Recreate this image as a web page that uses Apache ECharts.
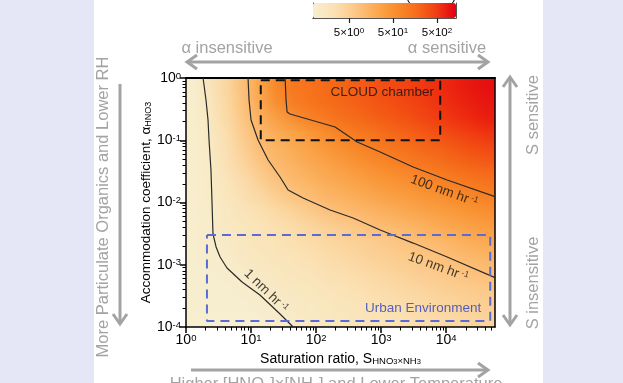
<!DOCTYPE html>
<html><head><meta charset="utf-8">
<script src="https://cdn.jsdelivr.net/npm/echarts@6/dist/echarts.min.js"></script>
<style>
html,body{margin:0;padding:0;width:623px;height:383px;overflow:hidden;background:#e6e7f6;}
#panel{position:absolute;left:94px;top:0;width:449px;height:383px;background:#ffffff;}
#hm{position:absolute;left:186px;top:78px;width:19px;height:16px;transform-origin:0 0;}
#main{position:absolute;left:0;top:0;width:623px;height:383px;}
</style></head><body>
<div id="panel"></div><div id="hm"></div><div id="main"></div>
<script>
// ---------------- data ----------------
// cell centres of the colour field (saturation ratio S, accommodation coefficient alpha)
const sCentres = [1.33,2.37,4.22,7.50,13.3,23.7,42.2,75.0,133,237,422,750,1334,2371,4217,7499,13335,23714,42170];
const alphaCentres = [1.33e-4,2.37e-4,4.22e-4,7.5e-4,1.33e-3,2.37e-3,4.22e-3,7.5e-3,0.0133,0.0237,0.0422,0.075,0.133,0.237,0.422,0.75];
// log10(growth rate, nm/hr), rows from top (alpha 0.75) to bottom (alpha 1.33e-4)
const logRateRows = [
 [-0.5,0.15,0.52,0.89,1.31,1.74,2.03,2.12,2.2,2.28,2.36,2.45,2.53,2.61,2.7,2.78,2.86,2.94,3.03],
 [-0.5,0.1,0.48,0.87,1.28,1.72,2.02,2.1,2.18,2.26,2.34,2.42,2.5,2.58,2.66,2.74,2.82,2.9,2.97],
 [-0.5,0.07,0.45,0.83,1.17,1.49,1.8,2.03,2.12,2.2,2.28,2.37,2.45,2.53,2.62,2.7,2.78,2.87,2.95],
 [-0.5,0.04,0.39,0.75,1.05,1.23,1.42,1.6,1.78,1.97,2.07,2.16,2.25,2.34,2.44,2.53,2.62,2.71,2.8],
 [-0.5,0.02,0.34,0.65,0.97,1.13,1.28,1.43,1.58,1.73,1.88,2.01,2.1,2.19,2.27,2.36,2.45,2.53,2.62],
 [-0.5,0.01,0.29,0.57,0.86,1.06,1.18,1.3,1.42,1.55,1.67,1.79,1.91,2.02,2.1,2.18,2.27,2.35,2.43],
 [-0.5,-0.01,0.23,0.46,0.7,0.93,1.07,1.18,1.28,1.38,1.48,1.59,1.69,1.79,1.9,2.0,2.07,2.15,2.22],
 [-0.5,-0.01,0.18,0.36,0.55,0.74,0.93,1.05,1.14,1.23,1.31,1.4,1.49,1.57,1.66,1.75,1.83,1.92,2.01],
 [-0.5,-0.02,0.12,0.26,0.4,0.54,0.68,0.82,0.96,1.06,1.14,1.22,1.3,1.39,1.47,1.55,1.63,1.72,1.8],
 [-0.5,-0.03,0.08,0.19,0.29,0.39,0.5,0.6,0.7,0.8,0.91,1.01,1.09,1.17,1.25,1.34,1.42,1.5,1.58],
 [-0.5,-0.03,0.06,0.14,0.22,0.3,0.38,0.46,0.54,0.62,0.7,0.78,0.86,0.94,1.02,1.1,1.19,1.28,1.37],
 [-0.5,-0.1,0.03,0.1,0.17,0.24,0.31,0.38,0.45,0.52,0.59,0.66,0.73,0.8,0.87,0.94,1.01,1.09,1.17],
 [-0.6,-0.25,-0.05,0.03,0.1,0.16,0.23,0.29,0.36,0.42,0.49,0.55,0.62,0.68,0.75,0.81,0.88,0.94,1.0],
 [-0.7,-0.45,-0.2,-0.05,0.03,0.09,0.15,0.21,0.27,0.33,0.39,0.45,0.51,0.57,0.63,0.69,0.75,0.82,0.88],
 [-0.8,-0.6,-0.4,-0.2,-0.05,0.02,0.08,0.13,0.18,0.24,0.29,0.35,0.4,0.46,0.51,0.57,0.62,0.68,0.73],
 [-0.9,-0.7,-0.5,-0.3,-0.15,-0.05,0.02,0.07,0.12,0.17,0.22,0.27,0.32,0.37,0.42,0.47,0.52,0.57,0.62]
];
// contour lines [S, alpha]
const contour1nm = [[1.83,1],[2.03,0.443],[2.18,0.211],[2.26,0.101],[2.42,0.0333],[2.51,0.0102],[2.6,0.00312],[2.9,0.00193],[3.34,0.00133],[4.27,0.000887],[7.27,0.000528],[13.7,0.000327],[27.9,0.000162],[44.3,0.0001]];
const contour10nm = [[8.99,1],[9.31,0.443],[10,0.211],[12.8,0.101],[18.3,0.0482],[27.9,0.0257],[37.1,0.0159],[63.1,0.0118],[164,0.00758],[371,0.00564],[966,0.00362],[3105,0.00223],[10350,0.00133],[56234,0.00062]];
const contour100nm = [[33.4,1],[34.5,0.443],[35.8,0.284],[39.8,0.264],[196,0.163],[428,0.0937],[966,0.0648],[3105,0.0372],[10350,0.023],[56234,0.0124]];
// regions
const cloudBox = [[14.1,0.92],[8090,0.92],[8090,0.1],[14.1,0.1],[14.1,0.92]];
const urbanBox = [[2.1,0.003],[47500,0.003],[47500,1.25e-4],[2.1,1.25e-4],[2.1,0.003]];
// annotation anchors [S, alpha]
const label100 = [9330, 0.0153];
const label10 = [7530, 0.00092];
const label1 = [17, 0.00038];
const cloudLabel = [1036, 0.6];
const urbanLabel = [4430, 0.000202];
// axis ranges & colour bar
const sRange = [1, 56234];
const alphaRange = [1e-4, 1];
const cbRange = [0.7586, 1349];           // nm/hr
const cbTicks = [5, 50, 500];

// ---------------- styles ----------------
const FONT = "'Liberation Sans', Arial, sans-serif";
const GREY = '#a3a3a3';
const cmap = ['#f7efd0','#fbe2b5','#fcc98a','#fbac56','#f98f2e','#f66f1c','#f14014','#e3000f'];
const lmin = Math.log10(cbRange[0]), lmax = Math.log10(cbRange[1]);
const step = (lmax - lmin) / (cmap.length - 1);

// ---------------- colour field (heatmap) ----------------
const hmData = [];
logRateRows.forEach((row, r) => row.forEach((v, c) => hmData.push([c, logRateRows.length - 1 - r, v])));
const hm = echarts.init(document.getElementById('hm'), null, {renderer:'canvas', width:19, height:16, devicePixelRatio:1});
hm.setOption({
  animation:false,
  grid:{left:0,right:0,top:0,bottom:0},
  xAxis:{type:'category', data:sCentres.map(String), show:false},
  yAxis:{type:'category', data:alphaCentres.map(String), show:false},
  visualMap:{show:false, min:lmin - 2*step, max:lmax, dimension:2, inRange:{color:[cmap[0], cmap[0]].concat(cmap)}},
  series:[{type:'heatmap', data:hmData, progressive:0}]
});
const PL = 186, PT = 78, PW = 309, PH = 249;
document.getElementById('hm').style.transform = 'scale(' + (PW/19) + ',' + (PH/16) + ')';

// ---------------- main chart ----------------
const minorX = []; for (let e = 0; e < 5; e++) for (let k = 2; k < 10; k++) { const v = k*Math.pow(10,e); if (v < sRange[1]) minorX.push(v); }
const minorY = []; for (let e = -4; e < 0; e++) for (let k = 2; k < 10; k++) minorY.push(k*Math.pow(10,e));

const powLabel = v => '10{sup|' + Math.round(Math.log10(v)) + '}';
const axisLabelStyle = {fontSize:14, color:'#000', fontFamily:FONT, formatter:powLabel,
  rich:{sup:{fontSize:9.5, fontFamily:FONT, color:'#000', verticalAlign:'top'}}};
const black = {color:'#000', width:1.5};
const off = {show:false};

function chevron(tx, ty, dx, dy) {
  const L = 10, W = 7, bx = tx - dx*L, by = ty - dy*L, px = -dy, py = dx;
  return {type:'polyline', silent:true, shape:{points:[[bx+px*W, by+py*W],[tx,ty],[bx-px*W, by-py*W]]},
    style:{stroke:GREY, lineWidth:3, fill:null, lineJoin:'miter'}};
}
function shaft(x1,y1,x2,y2){ return {type:'line', silent:true, shape:{x1,y1,x2,y2}, style:{stroke:GREY, lineWidth:3}}; }
function gtext(txt, x, y, rot){
  return {type:'text', silent:true, x, y, rotation:rot||0,
    style:{text:txt, font:'16.5px ' + FONT, fill:GREY, align:'center', verticalAlign:'middle', textAlign:'center', textVerticalAlign:'middle'}};
}

const labelSeries = (pt, txt, rot, color, fs, rich) => ({
  type:'scatter', xAxisIndex:0, yAxisIndex:0, data:[pt], symbolSize:1, itemStyle:{color:'rgba(0,0,0,0)'}, silent:true, z:5,
  label:{show:true, position:'inside', rotate:rot, formatter:txt, color:color, fontSize:fs, fontFamily:FONT, rich:rich||{}}
});
const hrRich = {sup:{fontSize:8.5, verticalAlign:'top', color:'#111', fontFamily:FONT}};

const chart = echarts.init(document.getElementById('main'), null, {renderer:'canvas', devicePixelRatio:1});
chart.setOption({
  animation:false,
  backgroundColor:'transparent',
  grid:[{left:PL, top:PT, width:PW, height:PH}, {left:313, top:3, width:143, height:15}, {left:PL, top:PT, width:PW, height:PH}],
  visualMap:[{type:'continuous', seriesIndex:[], orient:'horizontal', min:lmin, max:lmax, calculable:false,
    left:313, top:3, itemWidth:15, itemHeight:143, padding:0, text:null, inRange:{color:cmap}, hoverLink:false}],
  xAxis:[
    {type:'log', gridIndex:0, min:sRange[0], max:sRange[1], position:'bottom', axisLine:{lineStyle:black},
     axisTick:{length:6, lineStyle:black}, axisLabel:Object.assign({margin:6, showMaxLabel:false}, axisLabelStyle), splitLine:off,
     name:'Saturation ratio, S{sub|HNO}{sub2|3}{sub|×NH}{sub2|3}', nameLocation:'middle', nameGap:23,
     nameTextStyle:{fontSize:14, color:'#000', fontFamily:FONT, rich:{sub:{fontSize:9.5, verticalAlign:'bottom', fontFamily:FONT}, sub2:{fontSize:7.5, verticalAlign:'bottom', fontFamily:FONT}}}},
    {type:'log', gridIndex:0, min:sRange[0], max:sRange[1], position:'top', axisLine:{lineStyle:{color:'#000', width:2}}, axisTick:off, axisLabel:off, splitLine:off},
    {type:'log', gridIndex:1, min:cbRange[0], max:cbRange[1], position:'bottom', axisLine:{lineStyle:{color:'#555', width:1}},
     axisTick:{customValues:cbTicks, length:5, lineStyle:{color:'#222', width:1.2}}, splitLine:off,
     axisLabel:{customValues:cbTicks, margin:9, fontSize:11.5, color:'#000', fontFamily:FONT,
       formatter:v => '5×10{sup|' + Math.round(Math.log10(v/5)) + '}', rich:{sup:{fontSize:8, verticalAlign:'top', fontFamily:FONT}}}},
    {type:'value', gridIndex:1, min:0, max:1, position:'top', axisLine:{lineStyle:{color:'#555', width:1}}, axisTick:off, axisLabel:off, splitLine:off},
    {type:'log', gridIndex:2, min:sRange[0], max:sRange[1], position:'bottom', axisLine:off, axisLabel:off, splitLine:off,
     axisTick:{customValues:minorX, length:3.5, lineStyle:{color:'#000', width:1}}}
  ],
  yAxis:[
    {type:'log', gridIndex:0, min:alphaRange[0], max:alphaRange[1], position:'left', axisLine:{lineStyle:black},
     axisTick:{length:6, lineStyle:black}, axisLabel:Object.assign({margin:5, showMaxLabel:true, showMinLabel:true}, axisLabelStyle), splitLine:off,
     name:'Accommodation coefficient, α{sub|HNO3}', nameLocation:'middle', nameGap:33,
     nameTextStyle:{fontSize:13.5, color:'#000', fontFamily:FONT, rich:{sub:{fontSize:9, verticalAlign:'bottom', fontFamily:FONT}}}},
    {type:'log', gridIndex:0, min:alphaRange[0], max:alphaRange[1], position:'right', axisLine:{lineStyle:black}, axisTick:off, axisLabel:off, splitLine:off},
    {type:'value', gridIndex:1, min:0, max:1, position:'left', axisLine:{lineStyle:{color:'#555', width:1}}, axisTick:off, axisLabel:off, splitLine:off},
    {type:'value', gridIndex:1, min:0, max:1, position:'right', axisLine:{lineStyle:{color:'#555', width:1}}, axisTick:off, axisLabel:off, splitLine:off},
    {type:'log', gridIndex:2, min:alphaRange[0], max:alphaRange[1], position:'left', axisLine:off, axisLabel:off, splitLine:off,
     axisTick:{customValues:minorY, length:3.5, lineStyle:{color:'#000', width:1}}}
  ],
  series:[
    {type:'line', xAxisIndex:0, yAxisIndex:0, data:contour1nm, symbol:'none', silent:true, lineStyle:{color:'#2a2a2a', width:1.2}},
    {type:'line', xAxisIndex:0, yAxisIndex:0, data:contour10nm, symbol:'none', silent:true, lineStyle:{color:'#2a2a2a', width:1.2}},
    {type:'line', xAxisIndex:0, yAxisIndex:0, data:contour100nm, symbol:'none', silent:true, lineStyle:{color:'#2a2a2a', width:1.2}},
    {type:'line', xAxisIndex:0, yAxisIndex:0, data:cloudBox, symbol:'none', silent:true, lineStyle:{color:'#111', width:2, type:[9,6]}},
    {type:'line', xAxisIndex:0, yAxisIndex:0, data:urbanBox, symbol:'none', silent:true, lineStyle:{color:'#5a6bd6', width:2, type:[9,6]}},
    labelSeries(label100, '100 nm hr{sup| -1}', -20, '#111', 13.5, hrRich),
    labelSeries(label10, '10 nm hr{sup| -1}', -20, '#111', 13.5, hrRich),
    labelSeries(label1, '1 nm hr{sup| -1}', -44, '#111', 13.5, hrRich),
    labelSeries(cloudLabel, 'CLOUD chamber', 0, '#111', 13.5),
    labelSeries(urbanLabel, 'Urban Environment', 0, '#2b3fc4', 13.5)
  ],
  graphic:[
    // top double arrow
    shaft(189,62,486,62), chevron(187,62,-1,0), chevron(488,62,1,0),
    gtext('α insensitive', 227, 48), gtext('α sensitive', 447, 48),
    // right double arrow
    shaft(510,79,510,323), chevron(510,77,0,-1), chevron(510,325,0,1),
    gtext('S sensitive', 533, 115, Math.PI/2), gtext('S insensitive', 533, 283, Math.PI/2),
    // left arrow
    shaft(120,84,120,322), chevron(120,324,0,1),
    gtext('More Particulate Organics and Lower RH', 103, 207, Math.PI/2),
    // bottom arrow
    shaft(191,370,486,370), chevron(488,370,1,0),
    {type:'text', silent:true, x:336, y:376, style:{text:'Higher [HNO{s|3}]×[NH{s|3}] and Lower Temperature', font:'16.5px ' + FONT, fill:GREY,
      align:'center', verticalAlign:'top', textAlign:'center', textVerticalAlign:'top', rich:{s:{fontSize:11, verticalAlign:'bottom', fill:GREY}}}},
    // colour bar title (cut off at the top edge)
    {type:'text', silent:true, x:456, y:3, style:{text:'Growth rate (nm hr{s|-1})', font:'13px ' + FONT, fill:'#000',
      align:'right', verticalAlign:'bottom', textAlign:'right', textVerticalAlign:'bottom', rich:{s:{fontSize:9, verticalAlign:'top'}}}}
  ]
});
</script></body></html>
